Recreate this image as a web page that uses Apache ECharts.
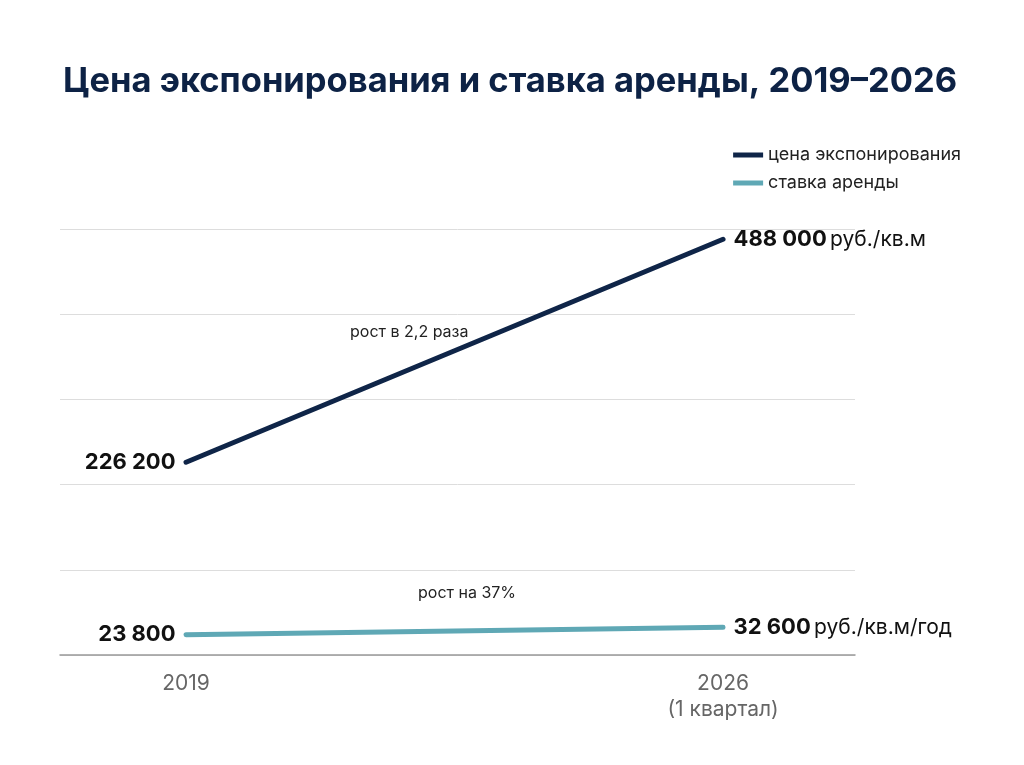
<!DOCTYPE html>
<html><head><meta charset="utf-8">
<script src="https://cdn.jsdelivr.net/npm/echarts@6/dist/echarts.min.js"></script>
<style>html,body{margin:0;background:#fff}#c{width:1024px;height:765px}</style>
</head><body><div id="c"></div>
<script>
// данные
const years = ['2019', '2026\n(1 квартал)'];
const priceValues = [226200, 488000];
const rentValues = [23800, 32600];
const priceUnit = 'руб./кв.м';
const rentUnit = 'руб./кв.м/год';

const navy = '#0f2548', teal = '#5fa8b5';
const fmt = v => String(v).replace(/\B(?=(\d{3})+(?!\d))/g, ' ');

function points(values, unit) {
  return values.map((v, i) => ({
    value: [i, v],
    label: {
      show: true,
      position: i === 0 ? 'left' : 'right',
      distance: 10,
      formatter: i === 0 ? '{b|' + fmt(v) + '}' : '{b|' + fmt(v) + '} {u|' + unit + '}',
      rich: {
        b: {fontSize: 22, fontWeight: 'bold', color: '#111', fontFamily: 'Inter'},
        u: {fontSize: 21, color: '#111', fontFamily: 'Inter'}
      }
    }
  }));
}

const chart = echarts.init(document.getElementById('c'));
chart.setOption({
  animation: false,
  title: {
    text: 'Цена экспонирования и ставка аренды, 2019–2026',
    left: 58, top: 59,
    textStyle: {fontSize: 34.5, fontWeight: 'bold', color: '#0d2245', fontFamily: 'Inter'}
  },
  legend: {
    orient: 'vertical', right: 58, top: 141, itemGap: 10,
    itemWidth: 30, itemHeight: 5, icon: 'rect',
    textStyle: {fontSize: 18, color: '#222', fontFamily: 'Inter'}
  },
  grid: {left: 60, right: 169, top: 229, bottom: 110},
  xAxis: {
    type: 'value', min: -0.2347, max: 1.2457,
    splitLine: {show: false}, axisTick: {show: false},
    axisLine: {show: true, lineStyle: {color: '#999', width: 1.5}},
    axisLabel: {
      customValues: [0, 1], formatter: v => years[v], margin: 16,
      fontSize: 21, color: '#666', fontFamily: 'Inter', lineHeight: 26
    }
  },
  yAxis: {
    type: 'value', min: 0, max: 500000, interval: 100000,
    axisLabel: {show: false}, axisLine: {show: false}, axisTick: {show: false},
    splitLine: {lineStyle: {color: '#ddd'}}
  },
  series: [
    {name: 'цена экспонирования', type: 'line', data: points(priceValues, priceUnit),
     symbol: 'circle', symbolSize: 1, showSymbol: true,
     lineStyle: {color: navy, width: 5, cap: 'round'}, itemStyle: {color: navy}},
    {name: 'ставка аренды', type: 'line', data: points(rentValues, rentUnit),
     symbol: 'circle', symbolSize: 1, showSymbol: true,
     lineStyle: {color: teal, width: 5, cap: 'round'}, itemStyle: {color: teal}}
  ],
  graphic: [
    {type: 'text', left: 350, top: 324, style: {text: 'рост в 2,2 раза', fontSize: 16, fill: '#222', fontFamily: 'Inter'}},
    {type: 'text', left: 418, top: 585, style: {text: 'рост на 37%', fontSize: 16, fill: '#222', fontFamily: 'Inter'}}
  ]
});
</script></body></html>
